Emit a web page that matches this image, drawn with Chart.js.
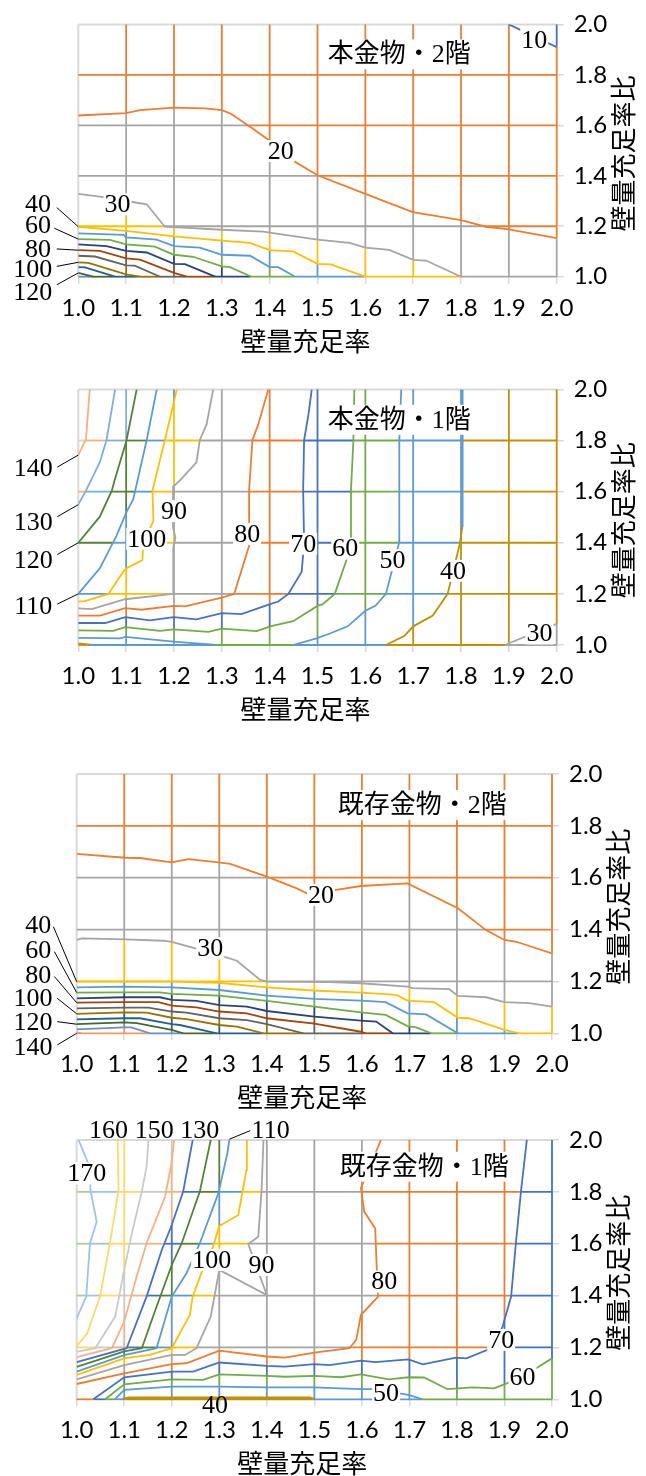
<!DOCTYPE html>
<html>
<head>
<meta charset="utf-8">
<script src="https://cdn.jsdelivr.net/npm/chart.js@4.4.1/dist/chart.umd.min.js"></script>
<style>
html, body { margin: 0; padding: 0; background: #fff; }
body { width: 646px; height: 1476px; position: relative; overflow: hidden; }
canvas { position: absolute; left: 0; }
</style>
</head>
<body>
<canvas id="c1"></canvas>
<canvas id="c2"></canvas>
<canvas id="c3"></canvas>
<canvas id="c4"></canvas>
<script>
// ---- data ----
var xTicks = [1.0, 1.1, 1.2, 1.3, 1.4, 1.5, 1.6, 1.7, 1.8, 1.9, 2.0];
var yTicks = [1.0, 1.2, 1.4, 1.6, 1.8, 2.0];
var xTitle = '壁量充足率';
var yTitle = '壁量充足率比';

// 本金物・2階
var p1Title = '本金物・2階';
var p1Levels = [10, 20, 30, 40, 50, 60, 70, 80, 90, 100, 110, 120];
var p1Corner = 15;
var p1Contours = [
	[10, [[1.9, 2.0], [2.0, 1.91]]],
	[20, [[1.0, 1.639], [1.1, 1.648], [1.129, 1.66], [1.2, 1.67], [1.265, 1.667], [1.3, 1.66], [1.32, 1.645], [1.359, 1.594], [1.4, 1.539], [1.449, 1.46], [1.5, 1.402], [1.6, 1.328], [1.699, 1.256], [1.8, 1.224], [1.852, 1.198], [1.9, 1.188], [2.0, 1.153]]],
	[30, [[1.0, 1.328], [1.045, 1.317], [1.1, 1.3], [1.143, 1.287], [1.181, 1.198], [1.3, 1.186], [1.387, 1.179], [1.4, 1.175], [1.5, 1.147], [1.567, 1.134], [1.6, 1.115], [1.65, 1.106], [1.7, 1.067], [1.727, 1.064], [1.8, 1.0]]],
	[40, [[1.0, 1.198], [1.1, 1.182], [1.2, 1.16], [1.3, 1.143], [1.359, 1.134], [1.4, 1.105], [1.449, 1.1], [1.5, 1.051], [1.528, 1.049], [1.6, 1.0]]],
	[50, [[1.0, 1.172], [1.095, 1.166], [1.1, 1.156], [1.164, 1.147], [1.2, 1.121], [1.254, 1.115], [1.3, 1.087], [1.359, 1.083], [1.4, 1.038], [1.418, 1.038], [1.453, 1.0]]],
	[60, [[1.0, 1.149], [1.066, 1.146], [1.1, 1.128], [1.16, 1.119], [1.2, 1.087], [1.24, 1.079], [1.3, 1.041], [1.317, 1.038], [1.362, 1.0]]],
	[70, [[1.0, 1.128], [1.059, 1.121], [1.1, 1.102], [1.143, 1.096], [1.2, 1.051], [1.223, 1.05], [1.286, 1.0]]],
	[80, [[1.0, 1.105], [1.045, 1.102], [1.1, 1.073], [1.129, 1.068], [1.2, 1.015], [1.227, 1.0]]],
	[90, [[1.0, 1.083], [1.035, 1.08], [1.1, 1.045], [1.118, 1.044], [1.171, 1.0]]],
	[100, [[1.0, 1.057], [1.021, 1.055], [1.1, 1.009], [1.129, 1.0]]],
	[110, [[1.0, 1.038], [1.014, 1.037], [1.077, 1.0]]],
	[120, [[1.0, 1.015], [1.031, 1.0]]]
];
var p1Labels = [['10', 1.953, 1.939], ['20', 1.423, 1.498], ['30', 1.082, 1.287],
	['40', 0.916, 1.286], ['60', 0.916, 1.206], ['80', 0.916, 1.11], ['100', 0.905, 1.03], ['120', 0.905, 0.937]];
var p1Leaders = [[0.955, 1.274, 1.0, 1.198], [0.95, 1.192, 1.0, 1.149], [0.955, 1.11, 1.0, 1.105], [0.955, 1.041, 1.0, 1.057], [0.955, 0.968, 1.0, 1.015]];

// 本金物・1階
var p2Title = '本金物・1階';
var p2Levels = [30, 40, 50, 60, 70, 80, 90, 100, 110, 120, 130, 140];
var p2Corner = 145;
var p2Contours = [
	[30, [[1.891, 1.0], [2.0, 1.083]]],
	[40, [[1.0, 1.006], [1.03, 1.0]]],
	[40, [[1.643, 1.0], [1.682, 1.036], [1.7, 1.073], [1.741, 1.115], [1.772, 1.2], [1.798, 1.4], [1.803, 1.466]]],
	[40, [[1.803, 1.466], [1.803, 1.6], [1.804, 1.8], [1.803, 2.0]]],
	[50, [[1.0, 1.028], [1.087, 1.026], [1.098, 1.032], [1.199, 1.013], [1.289, 1.0]]],
	[50, [[1.449, 1.0], [1.498, 1.026], [1.526, 1.045], [1.563, 1.073], [1.6, 1.134], [1.621, 1.153], [1.643, 1.2], [1.671, 1.402], [1.671, 1.798], [1.675, 2.0]]],
	[60, [[1.0, 1.057], [1.073, 1.055], [1.098, 1.07], [1.171, 1.055], [1.199, 1.061], [1.272, 1.051], [1.3, 1.064], [1.373, 1.054], [1.401, 1.073], [1.449, 1.093], [1.5, 1.153], [1.511, 1.16], [1.536, 1.2], [1.563, 1.345], [1.57, 1.402], [1.57, 1.607], [1.575, 1.798], [1.577, 2.0]]],
	[70, [[1.0, 1.086], [1.056, 1.086], [1.098, 1.109], [1.15, 1.096], [1.199, 1.109], [1.247, 1.1], [1.3, 1.125], [1.341, 1.121], [1.401, 1.16], [1.418, 1.17], [1.439, 1.2], [1.467, 1.287], [1.472, 1.4], [1.47, 1.604], [1.472, 1.802], [1.481, 1.9], [1.488, 2.0]]],
	[80, [[1.0, 1.115], [1.045, 1.115], [1.098, 1.144], [1.132, 1.138], [1.199, 1.153], [1.223, 1.151], [1.3, 1.185], [1.326, 1.2], [1.359, 1.4], [1.357, 1.492], [1.357, 1.604], [1.364, 1.802], [1.376, 1.862], [1.397, 2.0]]],
	[90, [[1.0, 1.143], [1.028, 1.14], [1.098, 1.179], [1.198, 1.2], [1.198, 1.262], [1.199, 1.38], [1.203, 1.42], [1.198, 1.46], [1.198, 1.619], [1.213, 1.645], [1.247, 1.715], [1.254, 1.802], [1.268, 1.862], [1.282, 2.0]]],
	[100, [[1.0, 1.17], [1.014, 1.172], [1.063, 1.2], [1.094, 1.287], [1.101, 1.3], [1.134, 1.332], [1.136, 1.402], [1.157, 1.485], [1.155, 1.604], [1.181, 1.802], [1.206, 2.0]]],
	[110, [[1.0, 1.2], [1.045, 1.3], [1.08, 1.428], [1.1, 1.517], [1.115, 1.571], [1.143, 1.802], [1.164, 2.0]]],
	[120, [[1.0, 1.4], [1.045, 1.502], [1.07, 1.604], [1.077, 1.651], [1.101, 1.802], [1.122, 2.0]]],
	[130, [[1.0, 1.549], [1.016, 1.604], [1.045, 1.715], [1.059, 1.802], [1.077, 2.0]]],
	[140, [[1.0, 1.743], [1.016, 1.805], [1.024, 2.0]]]
];
var p2Labels = [['140', 0.906, 1.693], ['130', 0.906, 1.479], ['120', 0.906, 1.332], ['110', 0.906, 1.153],
	['90', 1.2, 1.524], ['100', 1.143, 1.415], ['80', 1.353, 1.434], ['70', 1.47, 1.396],
	['60', 1.558, 1.377], ['50', 1.657, 1.332], ['40', 1.783, 1.29], ['30', 1.964, 1.045]];
var p2Leaders = [[0.956, 1.696, 1.0, 1.743], [0.956, 1.502, 1.0, 1.549], [0.956, 1.354, 1.0, 1.4], [0.956, 1.16, 1.0, 1.2]];

// 既存金物・2階
var p3Title = '既存金物・2階';
var p3Levels = [20, 30, 40, 50, 60, 70, 80, 90, 100, 110, 120, 130, 140];
var p3Corner = 15;
var p3Contours = [
	[20, [[1.0, 1.692], [1.102, 1.677], [1.133, 1.676], [1.2, 1.659], [1.235, 1.672], [1.298, 1.659], [1.323, 1.653], [1.4, 1.604], [1.463, 1.559], [1.498, 1.527], [1.546, 1.553], [1.598, 1.568], [1.696, 1.578], [1.802, 1.482], [1.861, 1.398], [1.9, 1.36], [1.925, 1.353], [2.0, 1.308]]],
	[30, [[1.0, 1.36], [1.011, 1.366], [1.102, 1.362], [1.182, 1.357], [1.2, 1.353], [1.288, 1.308], [1.337, 1.28], [1.386, 1.206], [1.4, 1.199], [1.533, 1.197], [1.598, 1.193], [1.696, 1.18], [1.707, 1.174], [1.784, 1.17], [1.802, 1.144], [1.861, 1.139], [1.9, 1.12], [1.952, 1.116], [2.0, 1.103]]],
	[40, [[1.0, 1.199], [1.102, 1.199], [1.2, 1.199], [1.298, 1.195], [1.4, 1.177], [1.498, 1.165], [1.598, 1.157], [1.672, 1.148], [1.696, 1.126], [1.752, 1.12], [1.802, 1.06], [1.826, 1.058], [1.9, 1.013], [1.931, 1.0]]],
	[50, [[1.0, 1.177], [1.1, 1.18], [1.2, 1.177], [1.3, 1.167], [1.4, 1.145], [1.5, 1.133], [1.598, 1.126], [1.65, 1.12], [1.696, 1.077], [1.735, 1.073], [1.802, 1.0]]],
	[60, [[1.0, 1.157], [1.1, 1.158], [1.175, 1.158], [1.2, 1.152], [1.3, 1.145], [1.4, 1.125], [1.5, 1.103], [1.598, 1.081], [1.65, 1.071], [1.696, 1.028], [1.714, 1.023], [1.746, 1.0]]],
	[70, [[1.0, 1.135], [1.1, 1.139], [1.175, 1.139], [1.2, 1.129], [1.252, 1.125], [1.3, 1.109], [1.358, 1.103], [1.4, 1.086], [1.5, 1.064], [1.598, 1.049], [1.63, 1.045], [1.665, 1.0]]],
	[80, [[1.0, 1.118], [1.1, 1.12], [1.172, 1.12], [1.2, 1.107], [1.252, 1.1], [1.3, 1.084], [1.358, 1.077], [1.4, 1.058], [1.5, 1.037], [1.598, 1.006], [1.608, 1.0]]],
	[90, [[1.0, 1.096], [1.1, 1.099], [1.151, 1.099], [1.2, 1.084], [1.231, 1.08], [1.3, 1.058], [1.358, 1.051], [1.4, 1.035], [1.477, 1.0]]],
	[100, [[1.0, 1.075], [1.1, 1.081], [1.147, 1.08], [1.2, 1.06], [1.231, 1.055], [1.3, 1.032], [1.337, 1.026], [1.393, 1.0]]],
	[110, [[1.0, 1.054], [1.1, 1.058], [1.133, 1.058], [1.2, 1.035], [1.217, 1.032], [1.295, 1.0]]],
	[120, [[1.0, 1.035], [1.1, 1.042], [1.126, 1.039], [1.2, 1.013], [1.224, 1.0]]],
	[130, [[1.0, 1.015], [1.1, 1.023], [1.115, 1.023], [1.154, 1.0]]],
	[140, [[1.0, 1.004], [1.01, 1.0]]]
];
var p3Labels = [['20', 1.514, 1.534], ['30', 1.281, 1.328],
	['40', 0.919, 1.418], ['60', 0.919, 1.321], ['80', 0.919, 1.225], ['100', 0.908, 1.136], ['120', 0.908, 1.044], ['140', 0.908, 0.947]];
var p3Leaders = [[0.951, 1.411, 1.0, 1.199], [0.953, 1.315, 1.0, 1.157], [0.953, 1.219, 1.0, 1.118], [0.959, 1.135, 1.0, 1.075], [0.959, 1.045, 1.0, 1.035], [0.959, 0.955, 1.0, 1.0]];

// 既存金物・1階
var p4Title = '既存金物・1階';
var p4Levels = [40, 50, 60, 70, 80, 90, 100, 110, 120, 130, 140, 150, 160, 170];
var p4Corner = 175;
var p4Contours = [
	[40, [[1.097, 1.0], [1.11, 1.005], [1.49, 1.005], [1.5, 1.0]]],
	[50, [[1.08, 1.0], [1.1, 1.036], [1.2, 1.049], [1.3, 1.049], [1.4, 1.046], [1.5, 1.046], [1.598, 1.039], [1.628, 1.039], [1.698, 1.017], [1.728, 1.0]]],
	[60, [[1.06, 1.0], [1.1, 1.058], [1.2, 1.077], [1.266, 1.075], [1.3, 1.096], [1.4, 1.09], [1.438, 1.087], [1.5, 1.09], [1.556, 1.085], [1.598, 1.096], [1.657, 1.077], [1.698, 1.085], [1.731, 1.084], [1.78, 1.039], [1.833, 1.046], [1.878, 1.042], [1.924, 1.075], [1.966, 1.119], [2.0, 1.158]]],
	[70, [[1.035, 1.0], [1.1, 1.085], [1.2, 1.107], [1.245, 1.107], [1.3, 1.142], [1.4, 1.129], [1.438, 1.126], [1.5, 1.136], [1.532, 1.132], [1.598, 1.149], [1.628, 1.143], [1.698, 1.154], [1.728, 1.135], [1.798, 1.161], [1.82, 1.158], [1.872, 1.197], [1.896, 1.28], [1.914, 1.396], [1.924, 1.602], [1.935, 1.807], [1.947, 2.0]]],
	[80, [[1.0, 1.059], [1.1, 1.1], [1.2, 1.136], [1.231, 1.139], [1.3, 1.188], [1.4, 1.165], [1.438, 1.161], [1.5, 1.18], [1.533, 1.188], [1.574, 1.197], [1.588, 1.229], [1.598, 1.325], [1.634, 1.396], [1.633, 1.428], [1.628, 1.659], [1.605, 1.724], [1.598, 1.814], [1.64, 2.0]]],
	[90, [[1.0, 1.077], [1.1, 1.132], [1.2, 1.171], [1.228, 1.171], [1.252, 1.197], [1.266, 1.254], [1.282, 1.319], [1.291, 1.409], [1.3, 1.499], [1.4, 1.402], [1.361, 1.599], [1.382, 1.627], [1.389, 1.807], [1.393, 2.0]]],
	[100, [[1.0, 1.094], [1.1, 1.158], [1.154, 1.171], [1.2, 1.197], [1.238, 1.325], [1.244, 1.396], [1.265, 1.5], [1.287, 1.59], [1.3, 1.668], [1.34, 1.711], [1.357, 1.884], [1.358, 2.0]]],
	[110, [[1.0, 1.107], [1.1, 1.17], [1.168, 1.197], [1.2, 1.396], [1.231, 1.486], [1.259, 1.602], [1.298, 1.794], [1.317, 1.949], [1.321, 2.0]]],
	[120, [[1.0, 1.125], [1.1, 1.185], [1.137, 1.197], [1.168, 1.357], [1.2, 1.518], [1.221, 1.602], [1.259, 1.801], [1.282, 2.0]]],
	[130, [[1.0, 1.143], [1.105, 1.197], [1.147, 1.396], [1.179, 1.576], [1.2, 1.672], [1.224, 1.801], [1.244, 2.0]]],
	[140, [[1.0, 1.163], [1.074, 1.197], [1.1, 1.3], [1.126, 1.473], [1.147, 1.602], [1.186, 1.781], [1.2, 1.916], [1.205, 2.0]]],
	[150, [[1.0, 1.183], [1.039, 1.197], [1.081, 1.319], [1.1, 1.499], [1.116, 1.64], [1.137, 1.801], [1.147, 1.897], [1.151, 2.0]]],
	[160, [[1.0, 1.205], [1.022, 1.254], [1.049, 1.396], [1.07, 1.602], [1.088, 1.807], [1.086, 2.0]]],
	[170, [[1.0, 1.312], [1.02, 1.396], [1.028, 1.602], [1.042, 1.685], [1.029, 1.807], [1.027, 1.897], [1.004, 2.0]]]
];
var p4Labels = [['160', 1.067, 2.039], ['150', 1.163, 2.039], ['130', 1.259, 2.039], ['110', 1.408, 2.039],
	['170', 1.021, 1.871], ['100', 1.284, 1.537], ['90', 1.389, 1.518], ['80', 1.647, 1.454],
	['70', 1.893, 1.229], ['60', 1.938, 1.087], ['50', 1.651, 1.023], ['40', 1.291, 0.978]];
var p4Leaders = [[1.321, 2.003, 1.365, 2.036]];

// ---- styles ----
var p1Bands = ['#4472C4', '#ED7D31', '#A5A5A5', '#FFC000', '#5B9BD5', '#70AD47', '#264478', '#9E480E', '#636363', '#997300', '#255E91', '#43682B', '#698ED0'];
var p2Bands = ['#A5A5A5', '#BF9000', '#5B9BD5', '#70AD47', '#4472C4', '#ED7D31', '#A5A5A5', '#FFC000', '#5B9BD5', '#548235', '#7CAFDD', '#F4B183', '#F8CBAD'];
var p3Bands = ['#ED7D31', '#A5A5A5', '#FFC000', '#5B9BD5', '#70AD47', '#264478', '#9E480E', '#636363', '#997300', '#255E91', '#43682B', '#698ED0', '#F1975A', '#B7B7B7'];
var p4Bands = ['#BF9000', '#5B9BD5', '#70AD47', '#4472C4', '#ED7D31', '#A5A5A5', '#FFC000', '#5B9BD5', '#548235', '#4472C4', '#F4B183', '#C9C9C9', '#FFD966', '#9DC3E6', '#A9D18E'];

var EDGE = '#D9D9D9';
var EPS = 0.002;
var LINE_W = 1.8;
var LABEL_FONT = '26px "Liberation Serif", "Noto Sans CJK JP"';
var AXIS_TITLE_FONT = '26px "Noto Sans CJK JP"';

var panels = [
	{ id: 'c1', top: 0, height: 370, area: [78.3, 556.7, 15.7, 276.7], title: p1Title, levels: p1Levels, corner: p1Corner, contours: p1Contours, labels: p1Labels, leaders: p1Leaders, bands: p1Bands, lineColor: {}, lineWidth: {} },
	{ id: 'c2', top: 365, height: 375, area: [78.3, 556.7, 384, 645], title: p2Title, levels: p2Levels, corner: p2Corner, contours: p2Contours, labels: p2Labels, leaders: p2Leaders, bands: p2Bands, lineColor: { 3: '#5B9BD5' }, lineWidth: {} },
	{ id: 'c3', top: 745, height: 380, area: [76.7, 552, 774, 1033.3], title: p3Title, levels: p3Levels, corner: p3Corner, contours: p3Contours, labels: p3Labels, leaders: p3Leaders, bands: p3Bands, lineColor: {}, lineWidth: {} },
	{ id: 'c4', top: 1100, height: 376, area: [76.7, 552, 1140, 1399.3], title: p4Title, levels: p4Levels, corner: p4Corner, contours: p4Contours, labels: p4Labels, leaders: p4Leaders, bands: p4Bands, lineColor: {}, lineWidth: { 0: 3 } }
];

// ---- band walking along grid lines ----
// axis 0: vertical line x = c (positions are y); axis 1: horizontal line y = c (positions are x)
function hits(cfg, axis, c, lo, hi) {
	var o = 1 - axis, out = [];
	cfg.contours.forEach(function (ct) {
		var li = cfg.levels.indexOf(ct[0]), pts = ct[1];
		for (var i = 0; i < pts.length - 1; i++) {
			var p = pts[i], q = pts[i + 1];
			if ((p[axis] < c) !== (q[axis] < c)) {
				var t = (c - p[axis]) / (q[axis] - p[axis]);
				var pos = p[o] + t * (q[o] - p[o]);
				if (pos >= lo && pos <= hi) out.push({ pos: pos, li: li });
			}
		}
	});
	return out;
}
function walk(cfg, axis, c, from, to, band) {
	var hs = hits(cfg, axis, c, Math.min(from, to), Math.max(from, to));
	hs.sort(function (a, b) { return Math.abs(a.pos - from) - Math.abs(b.pos - from); });
	var segs = [], cur = from;
	hs.forEach(function (h) {
		segs.push([cur, h.pos, band]);
		band = band <= h.li ? h.li + 1 : h.li;
		cur = h.pos;
	});
	segs.push([cur, to, band]);
	return { segs: segs, band: band };
}
function cornerBand(cfg) {
	return cfg.levels.filter(function (l) { return l < cfg.corner; }).length;
}

var gridPlugin = {
	id: 'bandGrid',
	beforeDatasetsDraw: function (chart) {
		var cfg = chart.options.plugins.bandGrid.cfg;
		var xs = chart.scales.x, ys = chart.scales.y, ctx = chart.ctx;
		var b0 = cornerBand(cfg);
		function seg(x1, y1, x2, y2, color, w) {
			ctx.strokeStyle = color;
			ctx.lineWidth = w;
			ctx.beginPath();
			ctx.moveTo(xs.getPixelForValue(x1), ys.getPixelForValue(y1));
			ctx.lineTo(xs.getPixelForValue(x2), ys.getPixelForValue(y2));
			ctx.stroke();
		}
		ctx.save();
		ctx.lineCap = 'butt';
		seg(1.0, 1.0, 1.0, 2.0, EDGE, 2);
		seg(1.0, 2.0, 2.0, 2.0, EDGE, 2);
		xTicks.forEach(function (xv) {
			if (xv <= 1.0) return;
			var c = xv >= 2.0 ? 2.0 - EPS : xv;
			var start = walk(cfg, 1, 2.0 - EPS, 1.0, c, b0).band;
			walk(cfg, 0, c, 2.0, 1.0, start).segs.forEach(function (s) {
				seg(xv, s[0], xv, s[1], cfg.bands[s[2]], LINE_W);
			});
		});
		yTicks.forEach(function (yv) {
			if (yv >= 2.0) return;
			var c = yv <= 1.0 ? 1.0 + EPS : yv;
			var start = walk(cfg, 0, 1.0 + EPS, 2.0, c, b0).band;
			walk(cfg, 1, c, 1.0, 2.0, start).segs.forEach(function (s) {
				seg(s[0], yv, s[1], yv, cfg.bands[s[2]], LINE_W);
			});
		});
		ctx.restore();
	},
	afterDatasetsDraw: function (chart) {
		var cfg = chart.options.plugins.bandGrid.cfg;
		var xs = chart.scales.x, ys = chart.scales.y, ctx = chart.ctx, a = chart.chartArea;
		ctx.save();
		// leader lines
		ctx.strokeStyle = '#000';
		ctx.lineWidth = 1;
		cfg.leaders.forEach(function (l) {
			ctx.beginPath();
			ctx.moveTo(xs.getPixelForValue(l[0]), ys.getPixelForValue(l[1]));
			ctx.lineTo(xs.getPixelForValue(l[2]), ys.getPixelForValue(l[3]));
			ctx.stroke();
		});
		// contour value labels
		ctx.font = LABEL_FONT;
		ctx.textAlign = 'center';
		ctx.textBaseline = 'middle';
		cfg.labels.forEach(function (l) {
			var px = xs.getPixelForValue(l[1]), py = ys.getPixelForValue(l[2]);
			var inside = l[1] >= 1 && l[1] <= 2 && l[2] >= 1 && l[2] <= 2;
			if (inside) {
				var w = ctx.measureText(l[0]).width;
				ctx.fillStyle = '#fff';
				ctx.fillRect(px - w / 2 - 1, py - 11, w + 2, 22);
			}
			ctx.fillStyle = '#000';
			ctx.fillText(l[0], px, py + 1);
		});
		// panel title box
		var tx = xs.getPixelForValue(cfg.titlePos[0]), ty = ys.getPixelForValue(cfg.titlePos[1]);
		var tw = ctx.measureText(cfg.title).width;
		ctx.fillStyle = '#fff';
		ctx.fillRect(tx - tw / 2 - 5, ty - 15, tw + 10, 30);
		ctx.fillStyle = '#000';
		ctx.fillText(cfg.title, tx, ty + 1);
		// axis titles
		ctx.font = AXIS_TITLE_FONT;
		ctx.fillText(xTitle, (a.left + a.right) / 2 - 12, a.bottom + 64);
		ctx.translate(a.right + 66, (a.top + a.bottom) / 2 + 3);
		ctx.rotate(-Math.PI / 2);
		ctx.fillText(yTitle, 0, 0);
		ctx.restore();
	}
};

var titlePositions = [[1.671, 1.881], [1.671, 1.881], [1.727, 1.88], [1.731, 1.897]];

panels.forEach(function (cfg, k) {
	cfg.titlePos = titlePositions[k];
	var cv = document.getElementById(cfg.id);
	cv.width = 646;
	cv.height = cfg.height;
	cv.style.top = cfg.top + 'px';
	var area = cfg.area;
	var axisW = 60, axisH = 50;
	var datasets = cfg.contours.map(function (ct, i) {
		return {
			data: ct[1].map(function (p) { return { x: p[0], y: p[1] }; }),
			showLine: true,
			fill: false,
			tension: 0,
			borderColor: cfg.lineColor[i] || cfg.bands[cfg.levels.indexOf(ct[0])],
			borderWidth: cfg.lineWidth[i] || LINE_W,
			pointRadius: 0,
			pointHoverRadius: 0
		};
	});
	new Chart(cv, {
		type: 'scatter',
		data: { datasets: datasets },
		plugins: [gridPlugin],
		options: {
			responsive: false,
			animation: false,
			devicePixelRatio: 1,
			layout: {
				padding: {
					left: area[0],
					right: 646 - area[1] - axisW,
					top: area[2] - cfg.top,
					bottom: cfg.height - (area[3] - cfg.top) - axisH
				}
			},
			plugins: {
				legend: { display: false },
				tooltip: { enabled: false },
				bandGrid: { cfg: cfg }
			},
			scales: {
				x: {
					type: 'linear',
					position: 'bottom',
					min: 1.0,
					max: 2.0,
					afterBuildTicks: function (s) { s.ticks = xTicks.map(function (v) { return { value: v }; }); },
					afterFit: function (s) { s.height = axisH; },
					ticks: {
						autoSkip: false,
						maxRotation: 0,
						minRotation: 0,
						padding: 10,
						color: '#000',
						font: { family: 'Lato', size: 24 },
						callback: function (v) { return Number(v).toFixed(1); }
					},
					grid: { drawOnChartArea: false, drawTicks: true, tickLength: 7, color: EDGE, lineWidth: 1.5 },
					border: { display: false }
				},
				y: {
					type: 'linear',
					position: 'right',
					min: 1.0,
					max: 2.0,
					afterBuildTicks: function (s) { s.ticks = yTicks.map(function (v) { return { value: v }; }); },
					afterFit: function (s) { s.width = axisW; },
					ticks: {
						padding: 10,
						color: '#000',
						font: { family: 'Lato', size: 24 },
						callback: function (v) { return Number(v).toFixed(1); }
					},
					grid: { drawOnChartArea: false, drawTicks: true, tickLength: 7, color: EDGE, lineWidth: 1.5 },
					border: { display: false }
				}
			}
		}
	});
});
</script>
</body>
</html>
